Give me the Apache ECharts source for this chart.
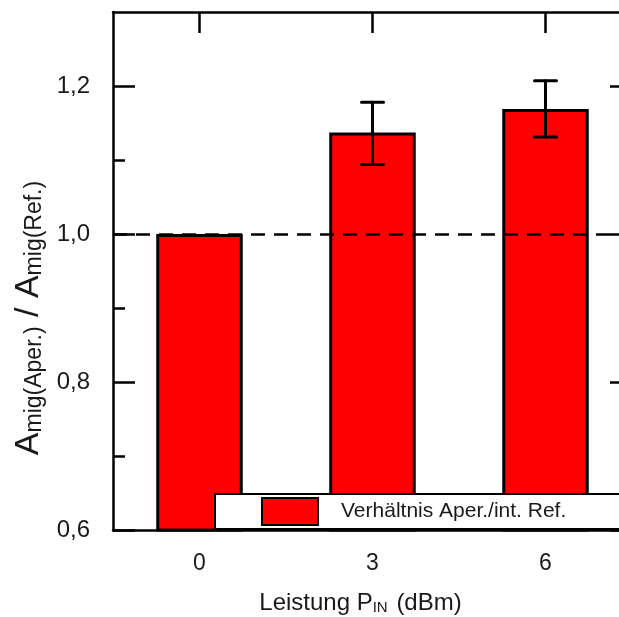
<!DOCTYPE html>
<html>
<head>
<meta charset="utf-8">
<script src="https://cdn.jsdelivr.net/npm/echarts@6/dist/echarts.min.js"></script>
<style>
  html, body { margin: 0; padding: 0; overflow: hidden; background: #fff; }
  #main { width: 645px; height: 617px; }
</style>
</head>
<body>
<div id="main"></div>
<script>
// Leistung P_IN in dBm
const categories = ['0', '3', '6'];
// Verhältnis A_mig(Aper.) / A_mig(Ref.)
const ratioValues = [1.0, 1.137, 1.169];
// Fehlerbalken (untere / obere Grenze), nur für 3 und 6 dBm
const errCategories = ['3', '6'];
const errLow = [1.094, 1.131];
const errHigh = [1.178, 1.207];
const refLine = 1.0;

const yTickValues = [0.6, 0.8, 1.0, 1.2];
const yTickLabels = ['0,6', '0,8', '1,0', '1,2'];
const yMinorValues = [0.7, 0.9, 1.1];

const font = 'Liberation Sans, Arial, sans-serif';
const black = '#000';

function yLabel(v) {
  const i = yTickValues.findIndex(t => Math.abs(t - v) < 1e-6);
  return i >= 0 ? yTickLabels[i] : '';
}

function yAxisDef(pos, ticks, len, withLine, withLabels) {
  return {
    type: 'value',
    position: pos,
    min: 0.6,
    max: 1.3,
    interval: 0.2,
    axisLine: { show: withLine, lineStyle: { color: black, width: 2.5 } },
    axisTick: { show: true, inside: true, length: len, customValues: ticks, lineStyle: { color: black, width: 2.5 } },
    axisLabel: withLabels ? {
      show: true, customValues: yTickValues, formatter: yLabel, margin: 23,
      fontSize: 24, color: '#1a1a1a', fontFamily: font
    } : { show: false },
    splitLine: { show: false }
  };
}

const errData = errCategories.map((c, i) => [c, errLow[i], errHigh[i]]);

const myChart = echarts.init(document.getElementById('main'));
const option = {
  animation: false,
  grid: { left: 113, right: 13, top: 12, bottom: 87, show: false, containLabel: false, outerBoundsMode: 'none' },
  legend: {
    left: 215, top: 494,
    data: ['Verhältnis Aper./int. Ref.'],
    icon: 'rect',
    itemWidth: 56, itemHeight: 27,
    padding: [3, 63, 3, 46],
    backgroundColor: '#fff',
    borderColor: black, borderWidth: 2,
    borderRadius: 0,
    textStyle: { fontSize: 21, color: '#1a1a1a', fontFamily: font, padding: [0, 0, 0, 18] },
    z: 10
  },
  xAxis: [{
    type: 'category',
    data: categories,
    position: 'bottom',
    axisLine: { lineStyle: { color: black, width: 2.5 } },
    axisTick: { show: false },
    axisLabel: { fontSize: 23, color: '#1a1a1a', fontFamily: font, margin: 22 },
    name: 'Leistung P{sub|IN} (dBm)',
    nameLocation: 'middle',
    nameGap: 61,
    nameTextStyle: {
      fontSize: 24, color: '#1a1a1a', fontFamily: font, padding: [0, 24, 0, 0],
      rich: { sub: { fontSize: 15, color: '#1a1a1a', fontFamily: font, verticalAlign: 'bottom', padding: [8, 2, 0, 0] } }
    }
  }, {
    type: 'category',
    data: categories,
    position: 'top',
    axisLine: { lineStyle: { color: black, width: 2.5 } },
    axisTick: { show: true, inside: true, alignWithLabel: true, length: 21, lineStyle: { color: black, width: 2.5 } },
    axisLabel: { show: false }
  }],
  yAxis: [
    Object.assign(yAxisDef('left', yTickValues, 22, true, true), {
      name: '{a|A}{s|mig(Aper.)}{a| / A}{s|mig(Ref.)}',
      nameLocation: 'middle',
      nameGap: 64,
      nameRotate: 90,
      nameTextStyle: {
        color: '#1a1a1a', fontFamily: font, padding: [0, 94, 0, 0],
        rich: {
          a: { fontSize: 34, color: '#1a1a1a', fontFamily: font },
          s: { fontSize: 23, color: '#1a1a1a', fontFamily: font, verticalAlign: 'bottom', padding: [12, 0, 0, 0] }
        }
      }
    }),
    yAxisDef('left', yMinorValues, 12, false, false),
    yAxisDef('right', yTickValues, 22, true, false),
    yAxisDef('right', yMinorValues, 12, false, false)
  ],
  series: [{
    name: 'Verhältnis Aper./int. Ref.',
    type: 'bar',
    data: ratioValues,
    barWidth: '50%',
    itemStyle: { color: '#ff0000', borderColor: black, borderWidth: 3 },
    markLine: {
      silent: true,
      symbol: 'none',
      label: { show: false },
      lineStyle: { color: black, width: 2.5, type: [14, 9] },
      data: [{ yAxis: refLine }]
    }
  }, {
    name: 'Fehler',
    type: 'custom',
    data: errData,
    z: 5,
    renderItem: function (params, api) {
      const lo = api.coord([api.value(0), api.value(1)]);
      const hi = api.coord([api.value(0), api.value(2)]);
      const half = 11;
      const st = { stroke: black, lineWidth: 3, lineCap: 'round' };
      return {
        type: 'group',
        children: [
          { type: 'line', shape: { x1: lo[0], y1: lo[1], x2: hi[0], y2: hi[1] }, style: st },
          { type: 'line', shape: { x1: hi[0] - half, y1: hi[1], x2: hi[0] + half, y2: hi[1] }, style: st },
          { type: 'line', shape: { x1: lo[0] - half, y1: lo[1], x2: lo[0] + half, y2: lo[1] }, style: st }
        ]
      };
    }
  }]
};
myChart.setOption(option);
</script>
</body>
</html>
